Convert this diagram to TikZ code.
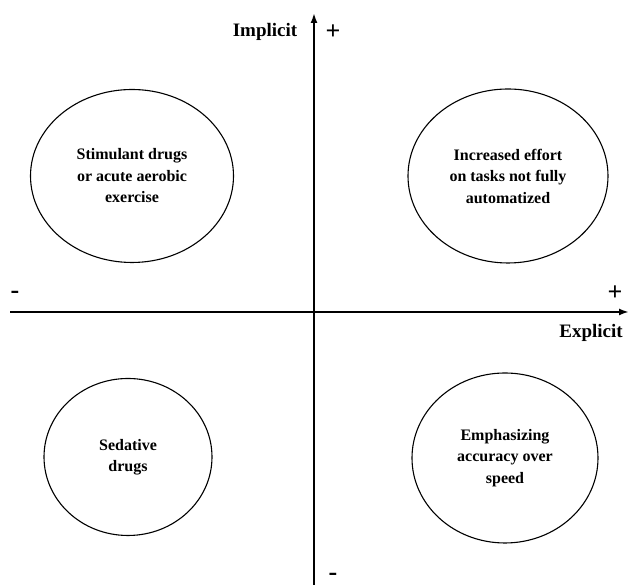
\documentclass[tikz,border=0pt]{standalone}
\usepackage{fontspec}
\setmainfont{Liberation Serif}
\usetikzlibrary{shapes.geometric,arrows.meta}

\begin{document}
\begin{tikzpicture}[x=1pt, y=1pt]
        % Define styles for the axes and the circles
        \tikzset{
            axis arrow/.style={-{Latex[length=10pt,width=7pt]}, line width=2pt, black},
            effect/.style={ellipse, draw, line width=1.1pt, align=center,
                font=\fontsize{16}{21.5}\selectfont\bfseries, inner sep=0pt},
            axis label/.style={font=\fontsize{19}{22}\selectfont\bfseries},
            sign/.style={font=\fontsize{26}{28}\selectfont\bfseries}
        }
        \useasboundingbox (0, 0) rectangle (633, 585);

        % Ends of the two axes
        \coordinate (west) at (10, 273);
        \coordinate (east) at (629, 273);
        \coordinate (south) at (314, 0);
        \coordinate (north) at (314, 572);

        % Draw the axes
        \draw[axis arrow] (west) -- (east);
        \draw[axis arrow] (south) -- (north);

        % Labels of the axes
        \node[axis label] (implicit) at (265, 553) {Implicit};
        \node[axis label] (explicit) at (591, 252) {Explicit};
        \node[sign] (yplus) at (333, 553) {+};
        \node[sign] (yminus) at (333, 8) {-};
        \node[sign] (xminus) at (15, 290) {-};
        \node[sign] (xplus) at (615, 292) {+};

        % The four quadrants
        \node[effect, minimum width=203pt, minimum height=173pt] (stimulant) at (132, 409)
            {Stimulant drugs\\or acute aerobic\\exercise};
        \node[effect, minimum width=200pt, minimum height=174pt] (effort) at (508, 409)
            {Increased effort\\on tasks not fully\\automatized};
        \node[effect, minimum width=168pt, minimum height=157pt] (sedative) at (128, 128)
            {Sedative\\drugs};
        \node[effect, minimum width=186pt, minimum height=170pt] (accuracy) at (505, 127)
            {Emphasizing\\accuracy over\\speed};

    \end{tikzpicture}
\end{document}
